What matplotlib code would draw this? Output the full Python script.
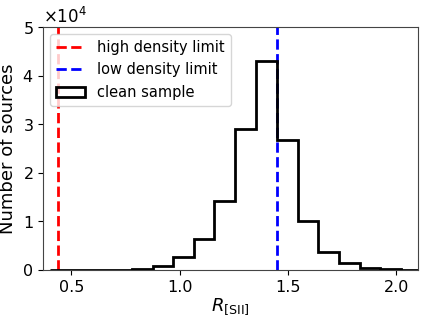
import matplotlib
matplotlib.use("Agg")
import matplotlib.pyplot as plt
import numpy as np

# histogram bin edges of R_[SII] and counts per bin
bin_edges = [0.40, 0.495, 0.59, 0.685, 0.78, 0.875, 0.97, 1.065, 1.16,
             1.255, 1.35, 1.45, 1.545, 1.64, 1.735, 1.83, 1.925, 2.02, 2.115]
counts = [0, 0, 0, 50, 200, 900, 2600, 6300, 14100,
          29100, 43100, 26700, 10000, 3800, 1500, 500, 200, 50]

high_density_limit = 0.44
low_density_limit = 1.45

x_ticks = [0.5, 1.0, 1.5, 2.0]


def main():
    fig, ax = plt.subplots(figsize=(4.36, 3.18), dpi=100)

    edges = np.array(bin_edges)
    centers = 0.5 * (edges[:-1] + edges[1:])

    ax.axvline(high_density_limit, color="red", ls="--", lw=2,
               label="high density limit")
    ax.axvline(low_density_limit, color="blue", ls="--", lw=2,
               label="low density limit")
    ax.hist(centers, bins=edges, weights=counts, histtype="step",
            color="black", lw=2, label="clean sample")

    ax.set_xlim(0.37, 2.1)
    ax.set_ylim(0, 50000)
    ax.set_xticks(x_ticks)
    ax.ticklabel_format(axis="y", style="sci", scilimits=(0, 0),
                        useMathText=True)
    ax.yaxis.get_offset_text().set_fontsize(12)
    ax.tick_params(labelsize=11.5)
    for sp in ax.spines.values():
        sp.set_color("#444444")
    ax.set_xlabel(r"$R_{\rm [SII]}$", fontsize=13, labelpad=1)
    ax.set_ylabel("Number of sources", fontsize=13, labelpad=4)
    ax.legend(loc="upper left", fontsize=10.5)

    fig.subplots_adjust(left=0.099, right=0.959, bottom=0.151, top=0.915)
    fig.savefig("out.png")


main()
